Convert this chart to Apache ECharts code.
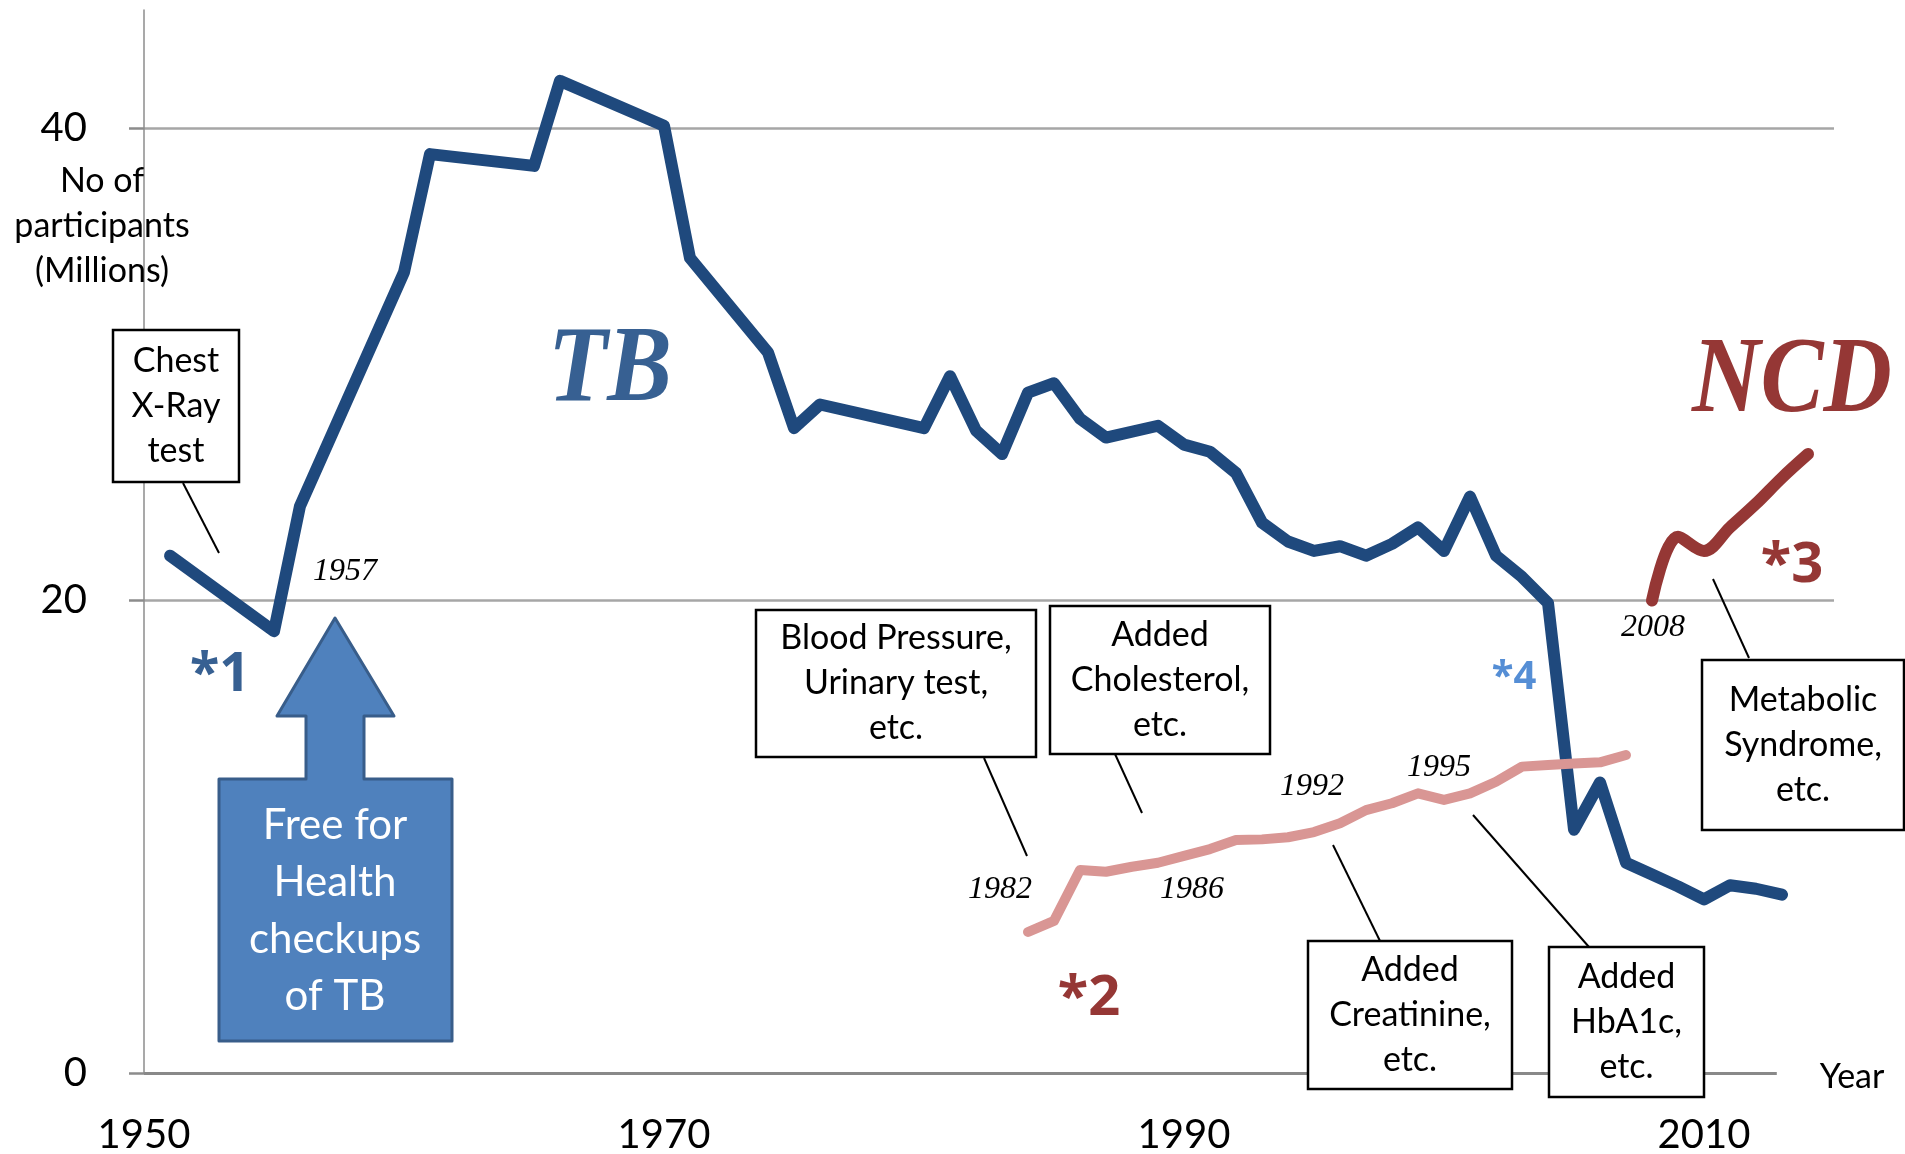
<!DOCTYPE html>
<html>
<head>
<meta charset="utf-8">
<title>TB and NCD health checkups</title>
<script src="https://cdn.jsdelivr.net/npm/echarts@6/dist/echarts.min.js"></script>
<style>
    html, body { margin: 0; padding: 0; background: #fff; }
    #chart { width: 1905px; height: 1154px; }
</style>
</head>
<body>
<div id="chart"></div>
<script>
    // axis ticks
    var xTicks = [1950, 1970, 1990, 2010];
    var yTicks = [0, 20, 40];

    // TB checkups, millions of participants
    var tbYears = [1951, 1955, 1956, 1960, 1961, 1965, 1966, 1970, 1971, 1974,
        1975, 1976, 1980, 1981, 1982, 1983, 1984, 1985, 1986, 1987,
        1989, 1990, 1991, 1992, 1993, 1994, 1995, 1996, 1997, 1998,
        1999, 2000, 2001, 2002, 2003, 2004, 2005, 2006, 2007, 2008,
        2009, 2010, 2011, 2012, 2013];
    var tbValues = [21.9, 18.7, 24.0, 33.9, 38.9, 38.4, 42.0, 40.1, 34.5, 30.5,
        27.3, 28.3, 27.3, 29.5, 27.2, 26.2, 28.8, 29.2, 27.7, 26.9,
        27.4, 26.6, 26.3, 25.4, 23.3, 22.5, 22.1, 22.3, 21.9, 22.4,
        23.1, 22.1, 24.4, 21.9, 21.0, 19.9, 10.3, 12.3, 8.9, 8.4,
        7.9, 7.35, 7.95, 7.8, 7.55];

    // blood pressure / urinary test checkups (pink line)
    var bpYears = [1984, 1985, 1986, 1987, 1988, 1989, 1990, 1991, 1992, 1993,
        1994, 1995, 1996, 1997, 1998, 1999, 2000, 2001, 2002, 2003,
        2004, 2005, 2006, 2007];
    var bpValues = [5.97, 6.44, 8.59, 8.52, 8.73, 8.9, 9.19, 9.48, 9.86, 9.89,
        9.98, 10.2, 10.57, 11.13, 11.42, 11.84, 11.56, 11.84, 12.33, 12.97,
        13.04, 13.1, 13.15, 13.46];

    // NCD (metabolic syndrome) checkups
    var ncdYears = [2008, 2009, 2010, 2011, 2012, 2013, 2014];
    var ncdValues = [20.0, 22.7, 22.1, 23.1, 24.1, 25.2, 26.2];

    // end of the zero line
    var zeroLineEnd = 2012.8;

    function pairs(xs, ys) {
        var out = []
        for (let i = 0; i < xs.length; i++) {
            out.push([xs[i], ys[i]])
        }
        return out
    }

    var sans = 'Lato, "Open Sans", sans-serif';
    var serif = '"Liberation Serif", "DejaVu Serif", serif';
    var starFont = '"Noto Sans", Lato, sans-serif';

    function textEl(x, y, text, style, extra) {
        var el = {
            type: 'text', x: x, y: y, z: 100,
            style: Object.assign({
                text: text, fill: '#000',
                align: 'center', verticalAlign: 'middle',
                textAlign: 'center', textVerticalAlign: 'middle'
            }, style)
        }
        return Object.assign(el, extra || {})
    }

    function boxEl(x1, y1, x2, y2, text) {
        return [{
            type: 'rect', z: 99,
            shape: {x: x1, y: y1, width: x2 - x1, height: y2 - y1},
            style: {fill: '#fff', stroke: '#000', lineWidth: 2.5}
        }, textEl((x1 + x2) / 2, (y1 + y2) / 2, text, {font: '34px ' + sans, lineHeight: 45})]
    }

    function leader(x1, y1, x2, y2) {
        return {
            type: 'line', z: 99,
            shape: {x1: x1, y1: y1, x2: x2, y2: y2},
            style: {stroke: '#000', lineWidth: 2}
        }
    }

    var graphics = [].concat(
        boxEl(113, 330, 239, 482, 'Chest\nX-Ray\ntest'),
        [leader(183, 483, 219, 553)],
        boxEl(756, 610, 1036, 757, 'Blood Pressure,\nUrinary test,\netc.'),
        [leader(984, 758, 1027, 856)],
        boxEl(1050, 606, 1270, 754, 'Added\nCholesterol,\netc.'),
        [leader(1115, 754, 1142, 813)],
        boxEl(1308, 941, 1512, 1089, 'Added\nCreatinine,\netc.'),
        [leader(1333, 845, 1380, 941)],
        boxEl(1549, 947, 1704, 1097, 'Added\nHbA1c,\netc.'),
        [leader(1473, 815, 1589, 947)],
        boxEl(1702, 660, 1904, 830, 'Metabolic\nSyndrome,\netc.'),
        [leader(1713, 579, 1749, 658)],
        [
            // arrow callout
            {
                type: 'polygon', z: 98,
                shape: {
                    points: [[335, 618], [394, 716], [364, 716], [364, 779], [452, 779], [452, 1041],
                        [219, 1041], [219, 779], [306, 779], [306, 716], [277, 716]]
                },
                style: {fill: '#4f81bd', stroke: '#385d8a', lineWidth: 3, lineJoin: 'round'}
            },
            textEl(335, 911, 'Free for\nHealth\ncheckups\nof TB', {font: '42px ' + sans, fill: '#fff', lineHeight: 57}),
            // axis title
            textEl(102, 226, 'No of\nparticipants\n(Millions)', {font: '34px ' + sans, lineHeight: 45}),
            textEl(1852, 1077, 'Year', {font: '34px ' + sans}),
            // big labels
            textEl(610, 372, 'TB', {font: 'italic bold 109px ' + serif, fill: '#376092'}, {scaleX: 0.89}),
            textEl(1792, 383, 'NCD', {font: 'italic bold 107px ' + serif, fill: '#953735'}, {scaleX: 0.885}),
            // note marks
            textEl(220, 676, '*1', {font: 'bold 54px ' + starFont, fill: '#376092'}),
            textEl(1089, 999, '*2', {font: 'bold 56px ' + starFont, fill: '#953735'}),
            textEl(1792, 566, '*3', {font: 'bold 56px ' + starFont, fill: '#953735'}),
            textEl(1514, 678, '*4', {font: 'bold 40px ' + starFont, fill: '#558ed5'}),
            // year notes
            textEl(345, 572, '1957', {font: 'italic 32px ' + serif}),
            textEl(1000, 890, '1982', {font: 'italic 32px ' + serif}),
            textEl(1192, 890, '1986', {font: 'italic 32px ' + serif}),
            textEl(1312, 787, '1992', {font: 'italic 32px ' + serif}),
            textEl(1439, 768, '1995', {font: 'italic 32px ' + serif}),
            textEl(1653, 628, '2008', {font: 'italic 32px ' + serif})
        ]
    );

    var myChart = echarts.init(document.getElementById('chart'));

    myChart.setOption({
        animation: false,
        backgroundColor: '#fff',
        grid: {left: 144, right: 71, top: 10, bottom: 81, containLabel: false, outerBoundsMode: 'none'},
        xAxis: {
            type: 'value', min: 1950, max: 2015, interval: 20,
            axisLine: {show: false},
            axisTick: {show: false},
            splitLine: {show: false},
            axisLabel: {
                customValues: xTicks, fontSize: 40, fontFamily: sans, color: '#000', margin: 42,
                formatter: function (v) { return String(v) }
            }
        },
        yAxis: {
            type: 'value', min: 0, max: 45, interval: 20,
            axisLine: {show: true, lineStyle: {color: '#8c8c8c', width: 1.5}},
            axisTick: {show: true, length: 15, customValues: yTicks, lineStyle: {color: '#8c8c8c', width: 2.5}},
            axisLabel: {customValues: yTicks, fontSize: 40, fontFamily: sans, color: '#000', margin: 57},
            splitLine: {show: true, showMinLine: false, lineStyle: {color: '#a6a6a6', width: 2.5}}
        },
        series: [{
            name: 'TB',
            type: 'line',
            data: pairs(tbYears, tbValues),
            symbol: 'none',
            lineStyle: {color: '#1f497d', width: 12, cap: 'round', join: 'round'},
            markLine: {
                silent: true,
                symbol: ['none', 'none'],
                label: {show: false},
                lineStyle: {color: '#898989', width: 3, type: 'solid'},
                data: [[{coord: [1950, 0]}, {coord: [zeroLineEnd, 0]}]]
            }
        }, {
            name: 'Blood pressure',
            type: 'line',
            data: pairs(bpYears, bpValues),
            symbol: 'none',
            lineStyle: {color: '#d99694', width: 10, cap: 'round', join: 'round'}
        }, {
            name: 'NCD',
            type: 'line',
            data: pairs(ncdYears, ncdValues),
            symbol: 'none',
            smooth: 0.35,
            lineStyle: {color: '#953735', width: 12, cap: 'round', join: 'round'}
        }],
        graphic: {elements: graphics}
    });
</script>
</body>
</html>
